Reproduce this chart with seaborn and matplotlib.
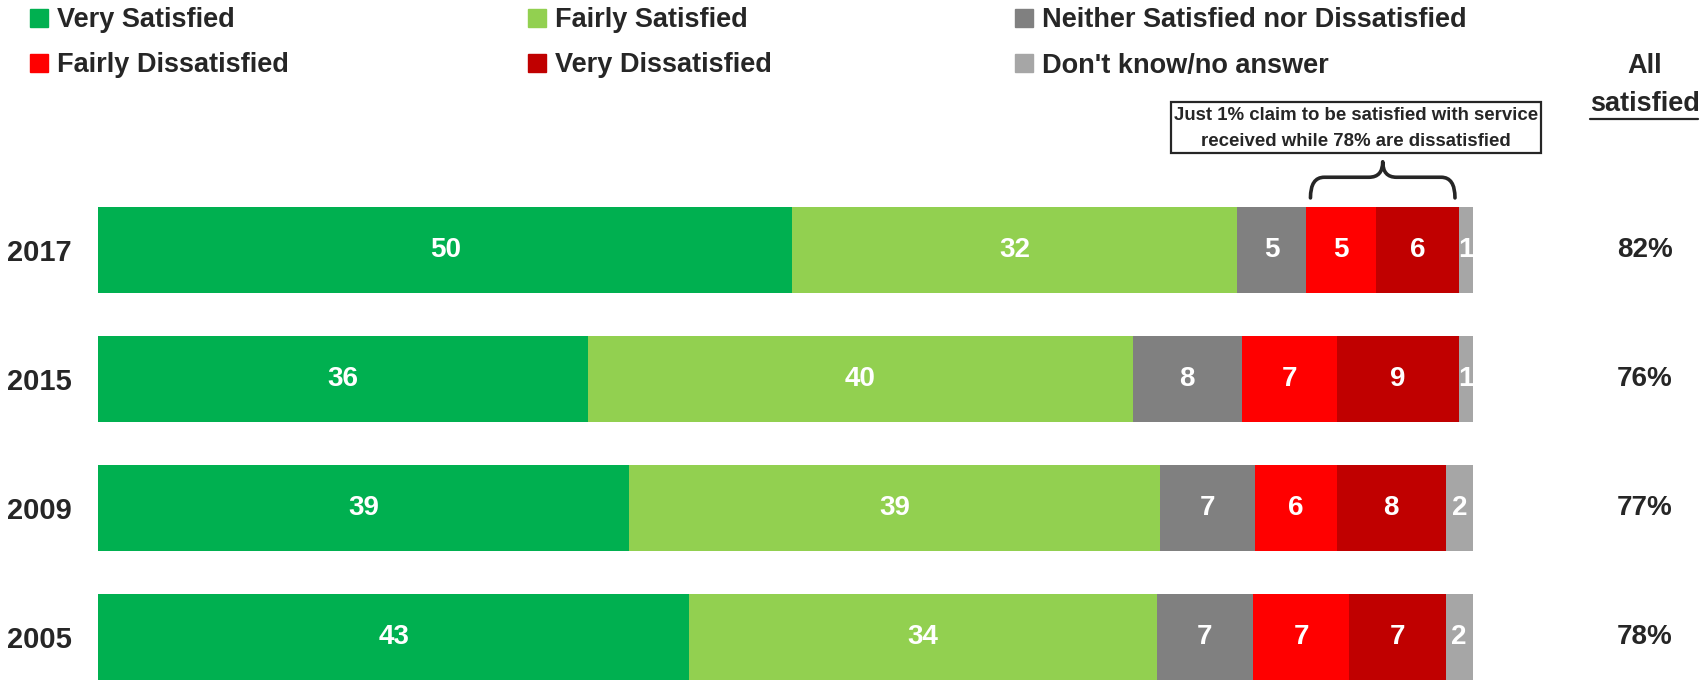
import matplotlib
matplotlib.use("Agg")
import matplotlib.pyplot as plt
from matplotlib.patches import Rectangle, PathPatch
from matplotlib.path import Path
from matplotlib.lines import Line2D
import numpy as np
import pandas as pd
import seaborn as sns

# Survey data: share of respondents per answer, by survey year
years = ["2017", "2015", "2009", "2005"]
very_satisfied = [50, 36, 39, 43]
fairly_satisfied = [32, 40, 39, 34]
neither = [5, 8, 7, 7]
fairly_dissatisfied = [5, 7, 6, 7]
very_dissatisfied = [6, 9, 8, 7]
dont_know = [1, 1, 2, 2]
all_satisfied = ["82%", "76%", "77%", "78%"]

categories = ["Very Satisfied", "Fairly Satisfied",
              "Neither Satisfied nor Dissatisfied", "Fairly Dissatisfied",
              "Very Dissatisfied", "Don't know/no answer"]
colors = ["#00B050", "#92D050", "#808080", "#FF0000", "#C00000", "#A6A6A6"]

sns.set_theme(style="white")
plt.rcParams["font.family"] = ["Liberation Sans", "DejaVu Sans"]
plt.rcParams["font.weight"] = "bold"
TXT = "#262626"

values = np.array([very_satisfied, fairly_satisfied, neither,
                   fairly_dissatisfied, very_dissatisfied, dont_know], dtype=float)
# 100% stacked: each year's bar spans the full width
shares = values / values.sum(axis=0) * 100
cum = np.cumsum(shares, axis=0)

W, H = 1702, 681
fig = plt.figure(figsize=(W / 100, H / 100), dpi=100)
ax = fig.add_axes([98 / W, 0, (1473 - 98) / W, 496 / H])

# Draw cumulative totals from the right-most segment down so each layer shows
for k in range(len(categories) - 1, -1, -1):
    df = pd.DataFrame({"year": years, "value": cum[k]})
    sns.barplot(data=df, x="value", y="year", orient="h", color=colors[k],
                width=0.667, saturation=1, linewidth=0, ax=ax)

ax.set_xlim(0, 100)
ax.set_ylim(3.34, -0.5)
ax.set_xlabel("")
ax.set_ylabel("")
ax.set_xticks([])
ax.tick_params(axis="y", length=0, pad=19, labelsize=21, labelcolor=TXT)
for lbl in ax.get_yticklabels():
    lbl.set_fontweight("bold")
    lbl.set_va("center_baseline")
sns.despine(ax=ax, left=True, bottom=True)

# Segment value labels
for i in range(len(years)):
    for k in range(len(categories)):
        start = cum[k, i] - shares[k, i]
        ax.text(start + shares[k, i] / 2, i, f"{int(values[k, i])}",
                ha="center", va="center", color="white",
                fontsize=20, fontweight="bold")
    ax.text(1.125, i, all_satisfied[i], transform=ax.get_yaxis_transform(),
            ha="center", va="center", color=TXT, fontsize=20, fontweight="bold")

# Column header on the right
fig.text(1645 / W, 1 - 66 / H, "All", ha="center", va="center",
         color=TXT, fontsize=19.5, fontweight="bold")
fig.text(1645 / W, 1 - 104 / H, "satisfied", ha="center", va="center",
         color=TXT, fontsize=19.5, fontweight="bold")
fig.add_artist(Line2D([1590 / W, 1698 / W], [1 - 119 / H, 1 - 119 / H],
                      color=TXT, lw=1.6))

# Brace over the dissatisfied segments of the top bar
x0 = cum[2, 0] + 0.3
x1 = cum[4, 0] - 0.3
xm = (x0 + x1) / 2
yb, yl, yt = -0.40, -0.56, -0.68
r = 1.0
brace = Path([(x0, yb), (x0, yl), (x0 + r, yl), (xm - r, yl), (xm, yl), (xm, yt),
              (xm, yl), (xm + r, yl), (x1 - r, yl), (x1, yl), (x1, yb)],
             [Path.MOVETO, Path.CURVE3, Path.CURVE3, Path.LINETO, Path.CURVE3,
              Path.CURVE3, Path.CURVE3, Path.CURVE3, Path.LINETO, Path.CURVE3,
              Path.CURVE3])
ax.add_patch(PathPatch(brace, fill=False, lw=2.6, edgecolor=TXT,
                       capstyle="round", joinstyle="round", clip_on=False))

# Call-out box
bx0, bx1, by0, by1 = 1171, 1541, 102, 153
fig.add_artist(Rectangle((bx0 / W, 1 - by1 / H), (bx1 - bx0) / W, (by1 - by0) / H,
                         transform=fig.transFigure, fill=False,
                         edgecolor=TXT, lw=1.6))
fig.text((bx0 + bx1) / 2 / W, 1 - 115 / H,
         "Just 1% claim to be satisfied with service", ha="center",
         va="center", color=TXT, fontsize=13.4, fontweight="bold")
fig.text((bx0 + bx1) / 2 / W, 1 - 141 / H,
         "received while 78% are dissatisfied", ha="center",
         va="center", color=TXT, fontsize=13.4, fontweight="bold")

# Legend in three columns of two entries
def handle(c):
    return Line2D([], [], marker="s", linestyle="none", markersize=13,
                  markerfacecolor=c, markeredgecolor=c)

columns = [(0, 3, 30), (1, 4, 528), (2, 5, 1015)]
for a, b, xpix in columns:
    leg = fig.legend([handle(colors[a]), handle(colors[b])],
                     [categories[a], categories[b]],
                     loc="upper left", bbox_to_anchor=(xpix / W, 1 - 7 / H),
                     frameon=False, borderpad=0, borderaxespad=0,
                     handlelength=0.7, handletextpad=0.3,
                     labelspacing=0.72, prop={"size": 19.5, "weight": "bold"})
    for t in leg.get_texts():
        t.set_color(TXT)

fig.savefig("out.png", dpi=100, facecolor="white")
